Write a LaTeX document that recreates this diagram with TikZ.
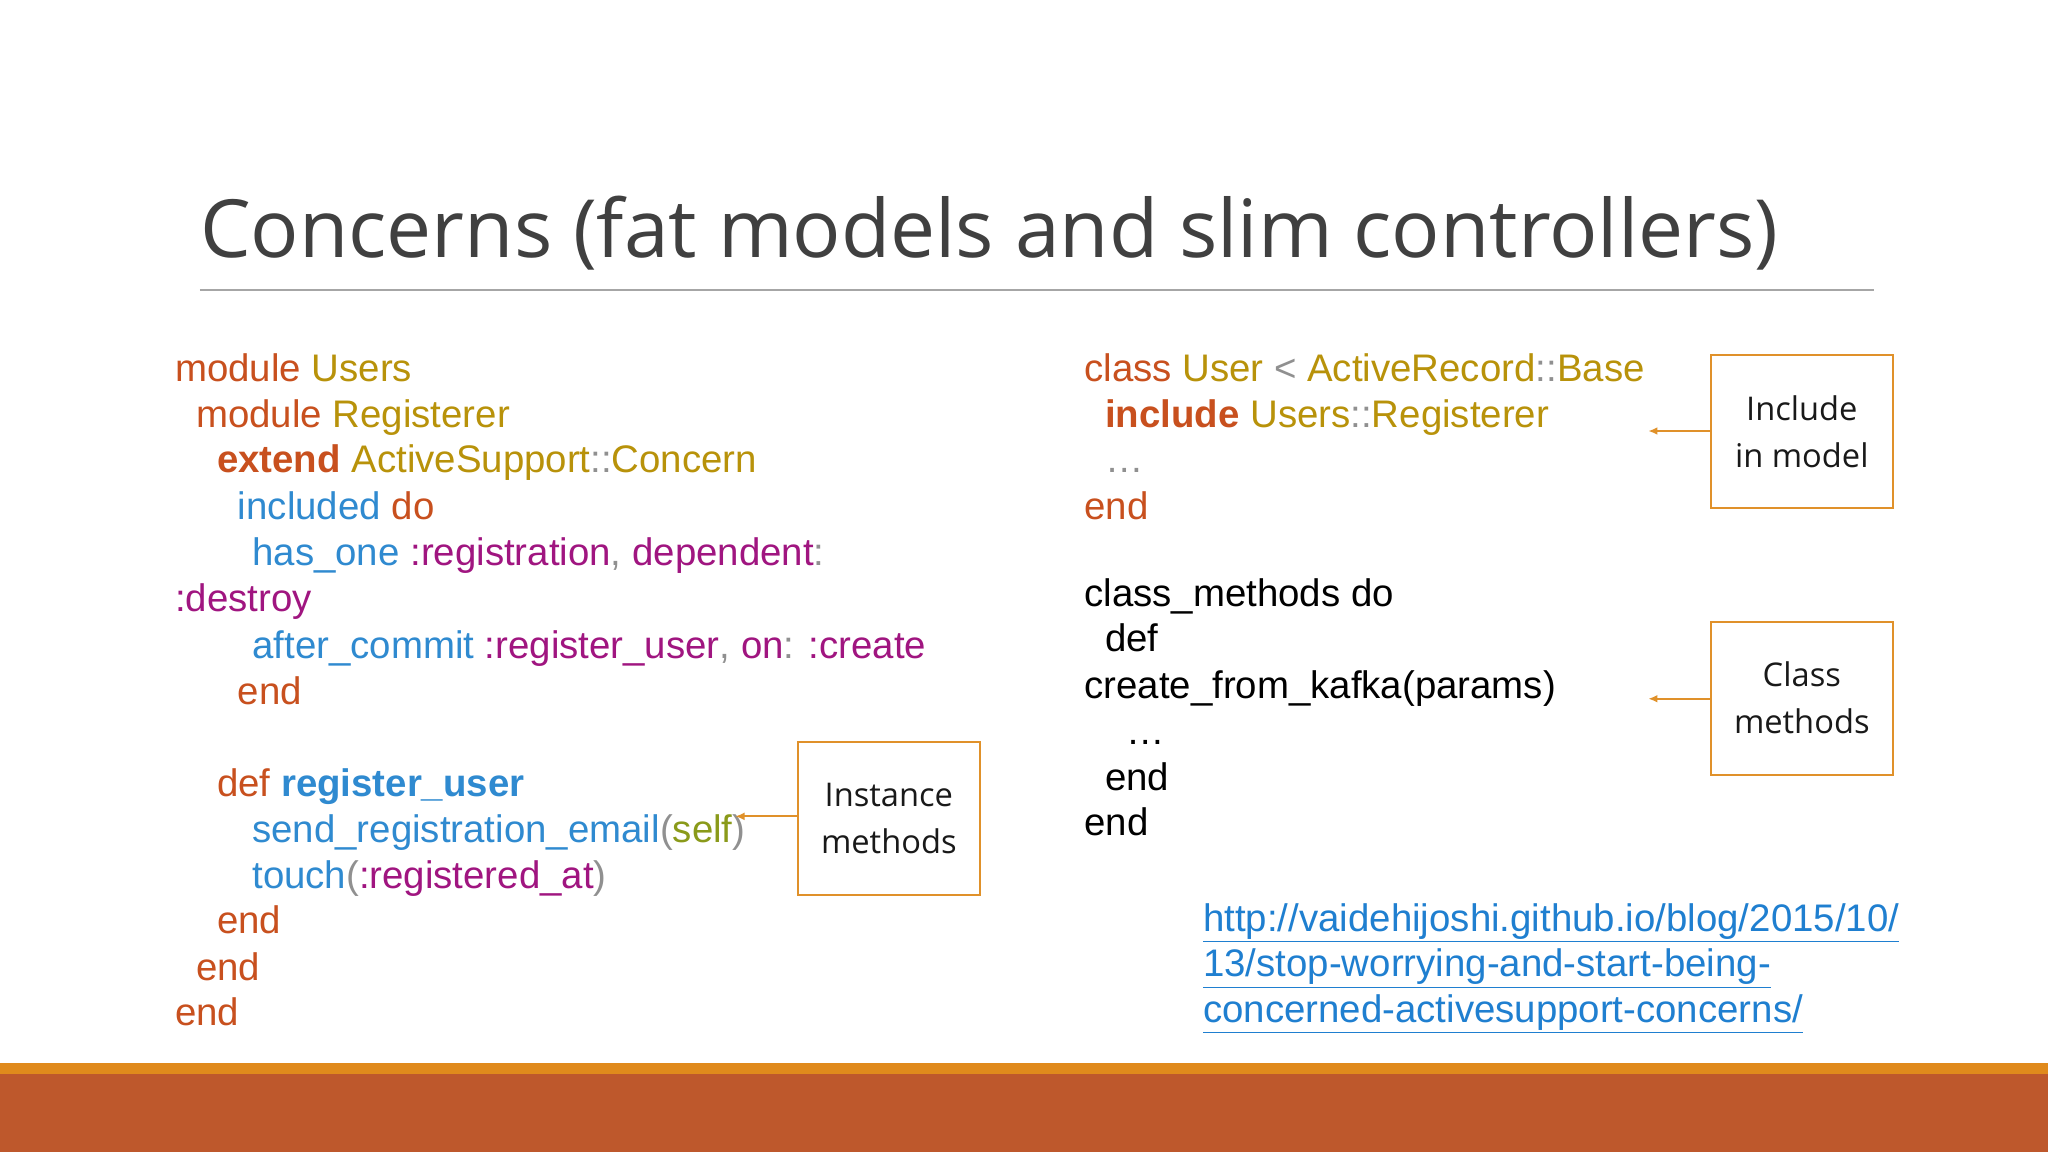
\documentclass[tikz,border=0pt]{standalone}
\usepackage{fontspec}
\setmainfont{Liberation Sans}
\newfontfamily\titlefont{Open Sans}
\definecolor{kred}{HTML}{C8501E}
\definecolor{kgold}{HTML}{B8920A}
\definecolor{kblue}{HTML}{2F8AD0}
\definecolor{kpurp}{HTML}{A01580}
\definecolor{kgreen}{HTML}{8A9A1A}
\definecolor{kgray}{HTML}{909090}
\definecolor{barorange}{HTML}{E08A1C}
\definecolor{barrust}{HTML}{BE582C}
\definecolor{boxorange}{HTML}{E0912A}
\definecolor{urlblue}{HTML}{1F7FD0}
\tikzset{
 code/.style={anchor=base west,inner sep=0pt,font=\fontsize{29.4}{34}\selectfont},
 note/.style={draw=boxorange,line width=1.5pt,minimum width=139pt,minimum height=117pt,align=center,font=\titlefont\fontsize{25}{36}\selectfont,text=black!90},
 arr/.style={draw=boxorange,line width=1.3pt,-{Latex[length=7pt,width=6pt]}}
}
\usetikzlibrary{arrows.meta}
\begin{document}
\begin{tikzpicture}[x=1pt,y=-1pt]
\useasboundingbox (0,0) rectangle (1568,882);
\fill[white] (0,0) rectangle (1568,882);
\fill[barorange] (0,814) rectangle (1568,823);
\fill[barrust] (0,822) rectangle (1568,882);
\node[anchor=base west,inner sep=0pt,font=\titlefont\fontsize{61.5}{70}\selectfont,text=black!75] (title) at (153,197) {Concerns (fat models and slim controllers)};
\draw[gray!70,line width=1pt] (153,222) -- (1435,222);
% left code
\node[code] (l1) at (134,292) {\color{kred}module \color{kgold}Users};
\node[code] (l2) at (150,327) {\color{kred}module \color{kgold}Registerer};
\node[code] (l3) at (166,362) {\color{kred}\textbf{extend} \color{kgold}ActiveSupport\color{kgray}::\color{kgold}Concern};
\node[code] (l4) at (182,398) {\color{kblue}included \color{kred}do};
\node[code] (l5) at (193,433) {\color{kblue}has\_one \color{kpurp}:registration\color{kgray}, \color{kpurp}dependent\color{kgray}:};
\node[code] (l6) at (134,468) {\color{kpurp}:destroy};
\node[code] (l7) at (193,504) {\color{kblue}after\_commit \color{kpurp}:register\_user\color{kgray}, \color{kpurp}on\color{kgray}: \color{kpurp}:create};
\node[code] (l8) at (182,539) {\color{kred}end};
\node[code] (l9) at (166,610) {\color{kred}def \color{kblue}\textbf{register\_user}};
\node[code] (l10) at (193,645) {\color{kblue}send\_registration\_email\color{kgray}(\color{kgreen}self\color{kgray})};
\node[code] (l11) at (193,680) {\color{kblue}touch\color{kgray}(\color{kpurp}:registered\_at\color{kgray})};
\node[code] (l12) at (166,715) {\color{kred}end};
\node[code] (l13) at (150,751) {\color{kred}end};
\node[code] (l14) at (134,785) {\color{kred}end};
% right code
\node[code] (r1) at (830,292) {\color{kred}class \color{kgold}User \color{kgray}< \color{kgold}ActiveRecord\color{kgray}::\color{kgold}Base};
\node[code] (r2) at (846,327) {\color{kred}\textbf{include} \color{kgold}Users\color{kgray}::\color{kgold}Registerer};
\node[code] (r3) at (846,362) {\color{kgray}\dots};
\node[code] (r4) at (830,398) {\color{kred}end};
\node[code] (r5) at (830,464) {class\_methods do};
\node[code] (r6) at (846,499) {def};
\node[code] (r7) at (830,535) {create\_from\_kafka(params)};
\node[code] (r8) at (862,570) {\dots};
\node[code] (r9) at (846,605) {end};
\node[code] (r10) at (830,640) {end};
% url
\node[code,text=urlblue] (u1) at (921,713) {\underline{http://vaidehijoshi.github.io/blog/2015/10/}};
\node[code,text=urlblue] (u2) at (921,748) {\underline{13/stop-worrying-and-start-being-}};
\node[code,text=urlblue] (u3) at (921,783) {\underline{concerned-activesupport-concerns/}};
% boxes
\node[note] (b1) at (680.5,626.5) {Instance\\methods};
\node[note] (b2) at (1379.5,330.5) {Include\\in model};
\node[note] (b3) at (1379.5,534.5) {Class\\methods};
\coordinate (t1) at (563,625);
\coordinate (t2) at (1262,330);
\coordinate (t3) at (1262,535);
\draw[arr] (b1.west |- t1) -- (t1);
\draw[arr] (b2.west |- t2) -- (t2);
\draw[arr] (b3.west |- t3) -- (t3);
\end{tikzpicture}
\end{document}
